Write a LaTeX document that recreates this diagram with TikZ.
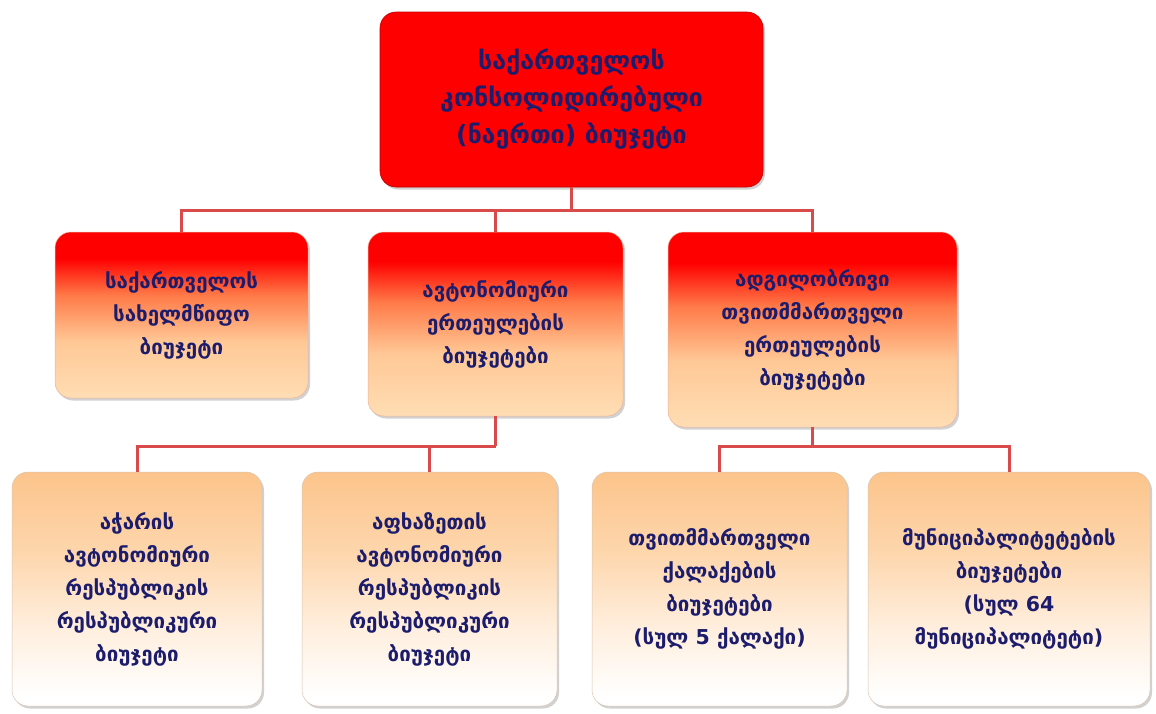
\documentclass[tikz,border=0pt]{standalone}
\usepackage{fontspec}
\setmainfont{DejaVu Sans}
\usetikzlibrary{shadows}
\definecolor{txt}{HTML}{1C1C6C}
\definecolor{conn}{HTML}{D94B4B}
\definecolor{rtop}{HTML}{FF0000}
\definecolor{rmid}{HTML}{FF7A48}
\definecolor{pmid}{HTML}{FFC896}
\definecolor{plow}{HTML}{FFDDB4}
\definecolor{qtop}{HTML}{FCC48B}
\definecolor{qmid}{HTML}{FDD6AC}
\definecolor{qlow}{HTML}{FFEEDD}
\definecolor{qbot}{HTML}{FFFFFF}
\pgfdeclareverticalshading{lvtwo}{100bp}{color(0bp)=(plow); color(25bp)=(plow); color(42bp)=(pmid); color(56bp)=(rmid); color(67bp)=(rtop); color(100bp)=(rtop)}
\pgfdeclareverticalshading{lvthree}{100bp}{color(0bp)=(qbot); color(27bp)=(qbot); color(42bp)=(qlow); color(58bp)=(qmid); color(75bp)=(qtop); color(100bp)=(qtop)}
\tikzset{
  box/.style={rounded corners=16pt, inner sep=0pt, align=center, text=txt,
    drop shadow={shadow xshift=2pt, shadow yshift=-2.5pt, opacity=0.3, fill=black!60}},
  topbox/.style={box, fill=rtop, draw=red!75!black, line width=0.6pt,
    font=\bfseries\fontsize{25}{37}\selectfont},
  lvtwobox/.style={box, shading=lvtwo, draw=red!40!orange!80!black!40, line width=0.5pt,
    font=\bfseries\fontsize{20.5}{33}\selectfont},
  lvthreebox/.style={box, shading=lvthree, draw=orange!50!black!30, line width=0.5pt,
    font=\bfseries\fontsize{20.5}{33}\selectfont},
  conn/.style={draw=conn, line width=3pt}
}
\begin{document}
\begin{tikzpicture}[x=1pt,y=-1pt]
\useasboundingbox (0,0) rectangle (1156,713);
\coordinate (j0) at (571.5,210);
\coordinate (j1) at (495.5,446);
\coordinate (j2) at (812.5,446);
% nodes
\node[topbox, minimum width=383pt, minimum height=175pt] (top) at (571.5,99.5)
  {საქართველოს\\კონსოლიდირებული\\(ნაერთი) ბიუჯეტი};
\node[lvtwobox, minimum width=253pt, minimum height=166pt] (l2a) at (181.5,315)
  {საქართველოს\\სახელმწიფო\\ბიუჯეტი};
\node[lvtwobox, minimum width=255pt, minimum height=184pt] (l2b) at (495.5,324)
  {ავტონომიური\\ერთეულების\\ბიუჯეტები};
\node[lvtwobox, minimum width=289pt, minimum height=195pt] (l2c) at (812.5,329.5)
  {ადგილობრივი\\თვითმმართველი\\ერთეულების\\ბიუჯეტები};
\node[lvthreebox, minimum width=250pt, minimum height=234pt] (l3a) at (137,589)
  {აჭარის\\ავტონომიური\\რესპუბლიკის\\რესპუბლიკური\\ბიუჯეტი};
\node[lvthreebox, minimum width=255pt, minimum height=234pt] (l3b) at (429.5,589)
  {აფხაზეთის\\ავტონომიური\\რესპუბლიკის\\რესპუბლიკური\\ბიუჯეტი};
\node[lvthreebox, minimum width=255pt, minimum height=234pt] (l3c) at (719.5,589)
  {თვითმმართველი\\ქალაქების\\ბიუჯეტები\\(სულ 5 ქალაქი)};
\node[lvthreebox, minimum width=282pt, minimum height=234pt] (l3d) at (1009,589)
  {მუნიციპალიტეტების\\ბიუჯეტები\\(სულ 64\\მუნიციპალიტეტი)};
% connectors
\draw[conn] (top.south) -- (j0);
\draw[conn] (l2a.north) |- (j0) -| (l2c.north);
\draw[conn] (l2b.north) -- (l2b.north |- j0);
\draw[conn] (l2b.south) -- (j1);
\draw[conn] (l3a.north) |- (j1);
\draw[conn] (l3b.north) -- (l3b.north |- j1);
\draw[conn] (l2c.south) -- (j2);
\draw[conn] (l3c.north) |- (j2) -| (l3d.north);
\end{tikzpicture}
\end{document}
